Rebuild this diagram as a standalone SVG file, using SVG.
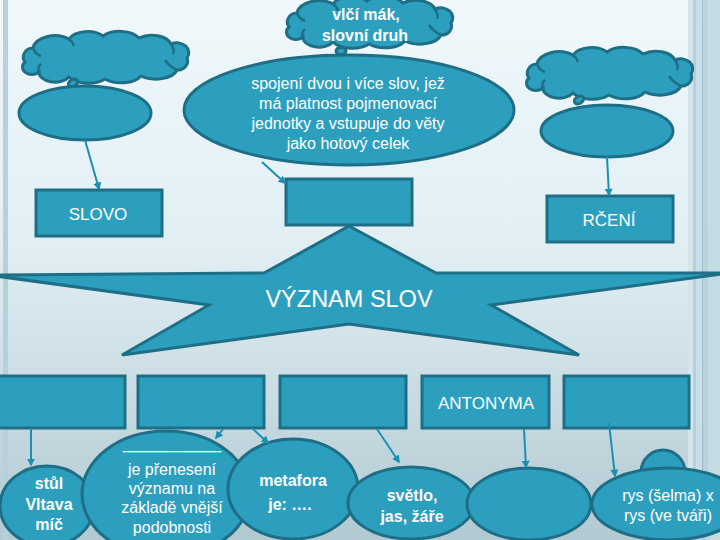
<svg xmlns="http://www.w3.org/2000/svg" width="720" height="540" viewBox="0 0 720 540">
<defs>
<linearGradient id="bg" x1="0" y1="0" x2="0" y2="1">
<stop offset="0" stop-color="#f0f8fb"/>
<stop offset="0.45" stop-color="#e1eff4"/>
<stop offset="1" stop-color="#b3c9d2"/>
</linearGradient>
<marker id="arr" viewBox="0 0 10 10" refX="8" refY="5" markerWidth="4" markerHeight="4" orient="auto">
<path d="M0,0 L10,5 L0,10 z" fill="#1a8fb2"/>
</marker>
<g id="cloud">
<path class="shape" d="M 6,30 A 10,9 0 0 1 14,16 A 22,14 0 0 1 50,7 A 20,12 0 0 1 84,4 A 22,13 0 0 1 120,6 A 20,12 0 0 1 152,12 A 12,10 0 0 1 168,26 A 10,9 0 0 1 158,38 A 22,12 0 0 1 122,44 A 22,12 0 0 1 86,47 A 22,12 0 0 1 50,45 A 16,10 0 0 1 20,40 A 9,7 0 0 1 6,30 Z"/>
<path class="inner" d="M 14,16 Q 16,22 22,24 M 20,40 Q 18,35 22,32 M 152,12 Q 156,18 154,22 M 158,38 Q 150,34 146,28 M 50,7 Q 54,10 55,14"/>
</g>
</defs>
<style>
.shape{fill:#2c9fbf;stroke:#1e6f86;stroke-width:3}
.inner{fill:none;stroke:#1e6f86;stroke-width:2.5}
.conn{fill:none;stroke:#1a8fb2;stroke-width:2;marker-end:url(#arr)}
.t{font-family:"Liberation Sans",Arial,sans-serif;fill:#ffffff;text-anchor:middle}
.r{font-size:17px}
.l{font-size:16px}
.b{font-size:16px;font-weight:bold}
</style>
<rect x="0" y="0" width="720" height="540" fill="url(#bg)"/>
<rect x="3" y="0" width="5" height="540" fill="#b4d1dd"/>
<rect x="688" y="0" width="5" height="540" fill="#d3e6ed"/>
<rect x="693" y="0" width="3" height="540" fill="#b6d0da"/>
<rect x="696" y="0" width="6" height="540" fill="#c9dee6"/>
<rect x="702" y="0" width="1.5" height="540" fill="#9fc0cd"/>
<rect x="703.5" y="0" width="5" height="540" fill="#b8d3de"/>
<rect x="708.5" y="0" width="11.5" height="540" fill="#c4dbe4"/>

<g id="cloud-top">
<use href="#cloud" transform="translate(283,-3)"/>
<ellipse class="shape" cx="341" cy="51" rx="5" ry="3.5" stroke-width="2.5"/>
<text class="t b" x="366" y="20">vlčí mák,</text>
<text class="t b" x="365" y="41">slovní druh</text>
</g>
<g id="cloud-left">
<use href="#cloud" transform="translate(19,32)"/>
<ellipse class="shape" cx="73" cy="83" rx="5" ry="3.5" stroke-width="2.5" transform="rotate(-30 73 83)"/>
</g>
<g id="cloud-right">
<use href="#cloud" transform="translate(523,48)"/>
<ellipse class="shape" cx="579" cy="100" rx="5" ry="3.5" stroke-width="2.5" transform="rotate(-30 579 100)"/>
</g>

<g id="ellipse-left"><ellipse class="shape" cx="85" cy="113" rx="66" ry="27"/></g>
<g id="ellipse-right"><ellipse class="shape" cx="607" cy="131" rx="66" ry="26"/></g>
<g id="ellipse-center">
<ellipse class="shape" cx="349" cy="110" rx="165" ry="55"/>
<text class="t l" x="348" y="89">spojení dvou i více slov, jež</text>
<text class="t l" x="348" y="109">má platnost pojmenovací</text>
<text class="t l" x="348" y="129">jednotky a vstupuje do věty</text>
<text class="t l" x="348" y="149">jako hotový celek</text>
</g>

<g id="box-slovo">
<rect class="shape" x="36" y="190" width="126" height="46"/>
<text class="t r" x="98" y="220">SLOVO</text>
</g>
<g id="box-center"><rect class="shape" x="286" y="179" width="126" height="46"/></g>
<g id="box-rceni">
<rect class="shape" x="547" y="196" width="126" height="46"/>
<text class="t r" x="609" y="226">RČENÍ</text>
</g>

<g id="star">
<polygon class="shape" points="349,226 436,273 730,273 491,305 579,355 349,324 122,355 209,305 -12,275 264,273"/>
<text class="t" x="349" y="307" font-size="23.5">VÝZNAM SLOV</text>
</g>

<g id="box-1"><rect class="shape" x="-3" y="376" width="128" height="52"/></g>
<g id="box-2"><rect class="shape" x="138" y="376" width="126" height="52"/></g>
<g id="box-3"><rect class="shape" x="280" y="376" width="126" height="52"/></g>
<g id="box-antonyma">
<rect class="shape" x="422" y="376" width="127" height="52"/>
<text class="t r" x="486" y="409">ANTONYMA</text>
</g>
<g id="box-5"><rect class="shape" x="564" y="376" width="125" height="52"/></g>

<g id="ellipse-b1">
<ellipse class="shape" cx="47" cy="506" rx="47" ry="40"/>
<text class="t b" x="49" y="489">stůl</text>
<text class="t b" x="49" y="510">Vltava</text>
<text class="t b" x="49" y="530">míč</text>
</g>
<g id="ellipse-b2">
<ellipse class="shape" cx="166" cy="494" rx="84" ry="63"/>
<text class="t l" x="172" y="449">___________</text>
<text class="t l" x="172" y="475">je přenesení</text>
<text class="t l" x="172" y="494">významu na</text>
<text class="t l" x="172" y="513">základě vnější</text>
<text class="t l" x="172" y="533">podobnosti</text>
</g>
<g id="ellipse-b3">
<ellipse class="shape" cx="293" cy="489" rx="65" ry="50"/>
<text class="t b" x="293" y="486" font-size="17">metafora</text>
<text class="t b" x="290" y="510" font-size="17">je: ….</text>
</g>
<g id="ellipse-b4">
<ellipse class="shape" cx="411" cy="503" rx="63" ry="36"/>
<text class="t b" x="412" y="501">světlo,</text>
<text class="t b" x="412" y="522">jas, žáře</text>
</g>
<g id="ellipse-b5"><ellipse class="shape" cx="529" cy="504" rx="62" ry="36"/></g>
<g id="ellipse-b6">
<circle class="shape" cx="663" cy="472" r="22"/>
<ellipse class="shape" cx="668" cy="504" rx="76" ry="36"/>
<text class="t l" x="668" y="501">rys (šelma) x</text>
<text class="t l" x="668" y="521">rys (ve tváři)</text>
</g>

<g id="connectors">
<line class="conn" x1="85" y1="140" x2="99" y2="189"/>
<line class="conn" x1="262" y1="162" x2="285" y2="183"/>
<line class="conn" x1="607" y1="157" x2="609" y2="195"/>
<line class="conn" x1="31" y1="428" x2="31" y2="465"/>
<line class="conn" x1="223" y1="429" x2="216" y2="438"/>
<line class="conn" x1="252" y1="428" x2="268" y2="443"/>
<line class="conn" x1="377" y1="429" x2="399" y2="462"/>
<line class="conn" x1="524" y1="429" x2="526" y2="467"/>
<line class="conn" x1="609" y1="423" x2="615" y2="476"/>
</g>
</svg>
